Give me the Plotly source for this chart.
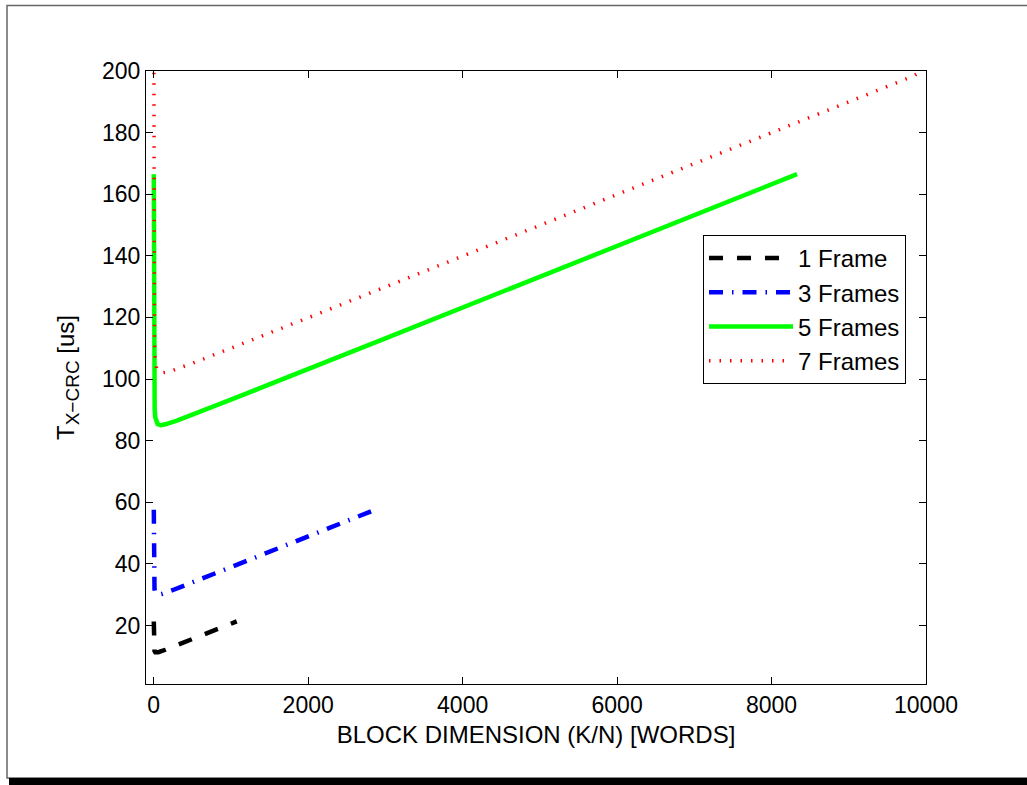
import plotly.graph_objects as go

# Block dimension K/N [words] and T_X-CRC [us]
x_1f = [1, 2, 3, 5, 10, 20, 33, 60, 150, 400, 700, 1075]
y_1f = [21.3, 15.95, 14.16, 12.75, 11.73, 11.29, 11.21, 11.33, 12.12, 14.58, 17.57, 21.31]

x_3f = [1, 2, 3, 5, 10, 20, 35, 54, 100, 250, 1000, 2000, 2866]
y_3f = [57.57, 43.25, 38.48, 34.68, 31.87, 30.53, 30.07, 29.97, 30.19, 31.52, 38.93, 48.91, 57.57]

x_5f = [1, 2, 3, 5, 8, 12, 20, 30, 50, 90, 150, 300, 1000, 3000, 6000, 8330]
y_5f = [166.5, 124.9, 111.0, 99.9, 93.7, 90.3, 87.6, 86.3, 85.4, 85.0, 85.3, 86.5, 93.3, 113.2, 143.2, 166.5]

x_7f = [1, 2, 3, 5, 10, 20, 40, 108, 200, 500, 2000, 5000, 8000, 9840, 10000, 11662]
y_7f = [216.5, 158.2, 138.7, 123.2, 111.6, 105.9, 103.2, 102.0, 102.4, 105.1, 119.9, 149.9, 179.9, 198.4, 201.0, 217.5]

series_names = ["1 Frame", "3 Frames", "5 Frames", "7 Frames"]
x_ticks = [0, 2000, 4000, 6000, 8000, 10000]
y_ticks = [20, 40, 60, 80, 100, 120, 140, 160, 180, 200]

FONT = "Liberation Sans, Arial, Helvetica, sans-serif"

# plot area at page x 146..926, y 71..684 (body margin removed below)
L, T, PW, PH = 146, 71, 780, 613
W, H = 1027, 785
R = W - L - PW
B = H - T - PH


def px(xp):
    return (xp - L) / PW


def py(yp):
    return (T + PH - yp) / PH


fig = go.Figure()
fig.add_trace(go.Scatter(x=x_1f, y=y_1f, mode="lines", name=series_names[0],
                         line=dict(color="#000000", width=4.5, dash="14px,14px")))
fig.add_trace(go.Scatter(x=x_3f, y=y_3f, mode="lines", name=series_names[1],
                         line=dict(color="#0000ff", width=4.5, dash="14px,9px,1.5px,9px")))
fig.add_trace(go.Scatter(x=x_5f, y=y_5f, mode="lines", name=series_names[2],
                         line=dict(color="#00ff00", width=4.5)))
fig.add_trace(go.Scatter(x=x_7f, y=y_7f, mode="lines", name=series_names[3],
                         line=dict(color="#ff0000", width=3.5, dash="1.5px,9px")))

axis_common = dict(showgrid=False, zeroline=False, showline=True, linecolor="#000000",
                   linewidth=1, mirror="ticks", ticks="inside", ticklen=7,
                   tickcolor="#000000", tickwidth=1,
                   tickfont=dict(family=FONT, size=23, color="#000000"))

fig.update_xaxes(range=[-100, 10000], tickvals=x_ticks, ticktext=[str(v) for v in x_ticks],
                 title=dict(text="BLOCK DIMENSION (K/N) [WORDS]", standoff=9,
                            font=dict(family=FONT, size=24, color="#000000")),
                 **axis_common)
fig.update_yaxes(range=[1, 200], tickvals=y_ticks, ticktext=[str(v) for v in y_ticks],
                 title=dict(text="T<sub><span style='font-size:19px'>X\u2212CRC</span></sub> [us]",
                            standoff=20,
                            font=dict(family=FONT, size=24, color="#000000")),
                 **axis_common)

fig.update_layout(
    width=W, height=H,
    margin=dict(l=L, r=R, t=T, b=B),
    paper_bgcolor="#ffffff", plot_bgcolor="#ffffff",
    font=dict(family=FONT, size=23, color="#000000"),
    showlegend=True,
    legend=dict(x=px(703), y=py(235), xanchor="left", yanchor="top",
                bgcolor="#ffffff", bordercolor="#000000", borderwidth=1,
                font=dict(family=FONT, size=24, color="#000000"),
                itemwidth=84, tracegroupgap=0),
    shapes=[
        dict(type="rect", xref="paper", yref="paper",
             x0=px(7), x1=px(1040), y0=py(778), y1=py(5.5),
             line=dict(color="#666666", width=1.5), fillcolor="rgba(0,0,0,0)", layer="below"),
        dict(type="rect", xref="paper", yref="paper",
             x0=px(9), x1=px(1040), y0=py(790), y1=py(778),
             line=dict(width=0), fillcolor="#000000", layer="above"),
    ],
)

fig.write_html(
    "out.html",
    config={"displayModeBar": False},
    post_script="document.body.style.margin='0';document.body.style.overflow='hidden';",
)
